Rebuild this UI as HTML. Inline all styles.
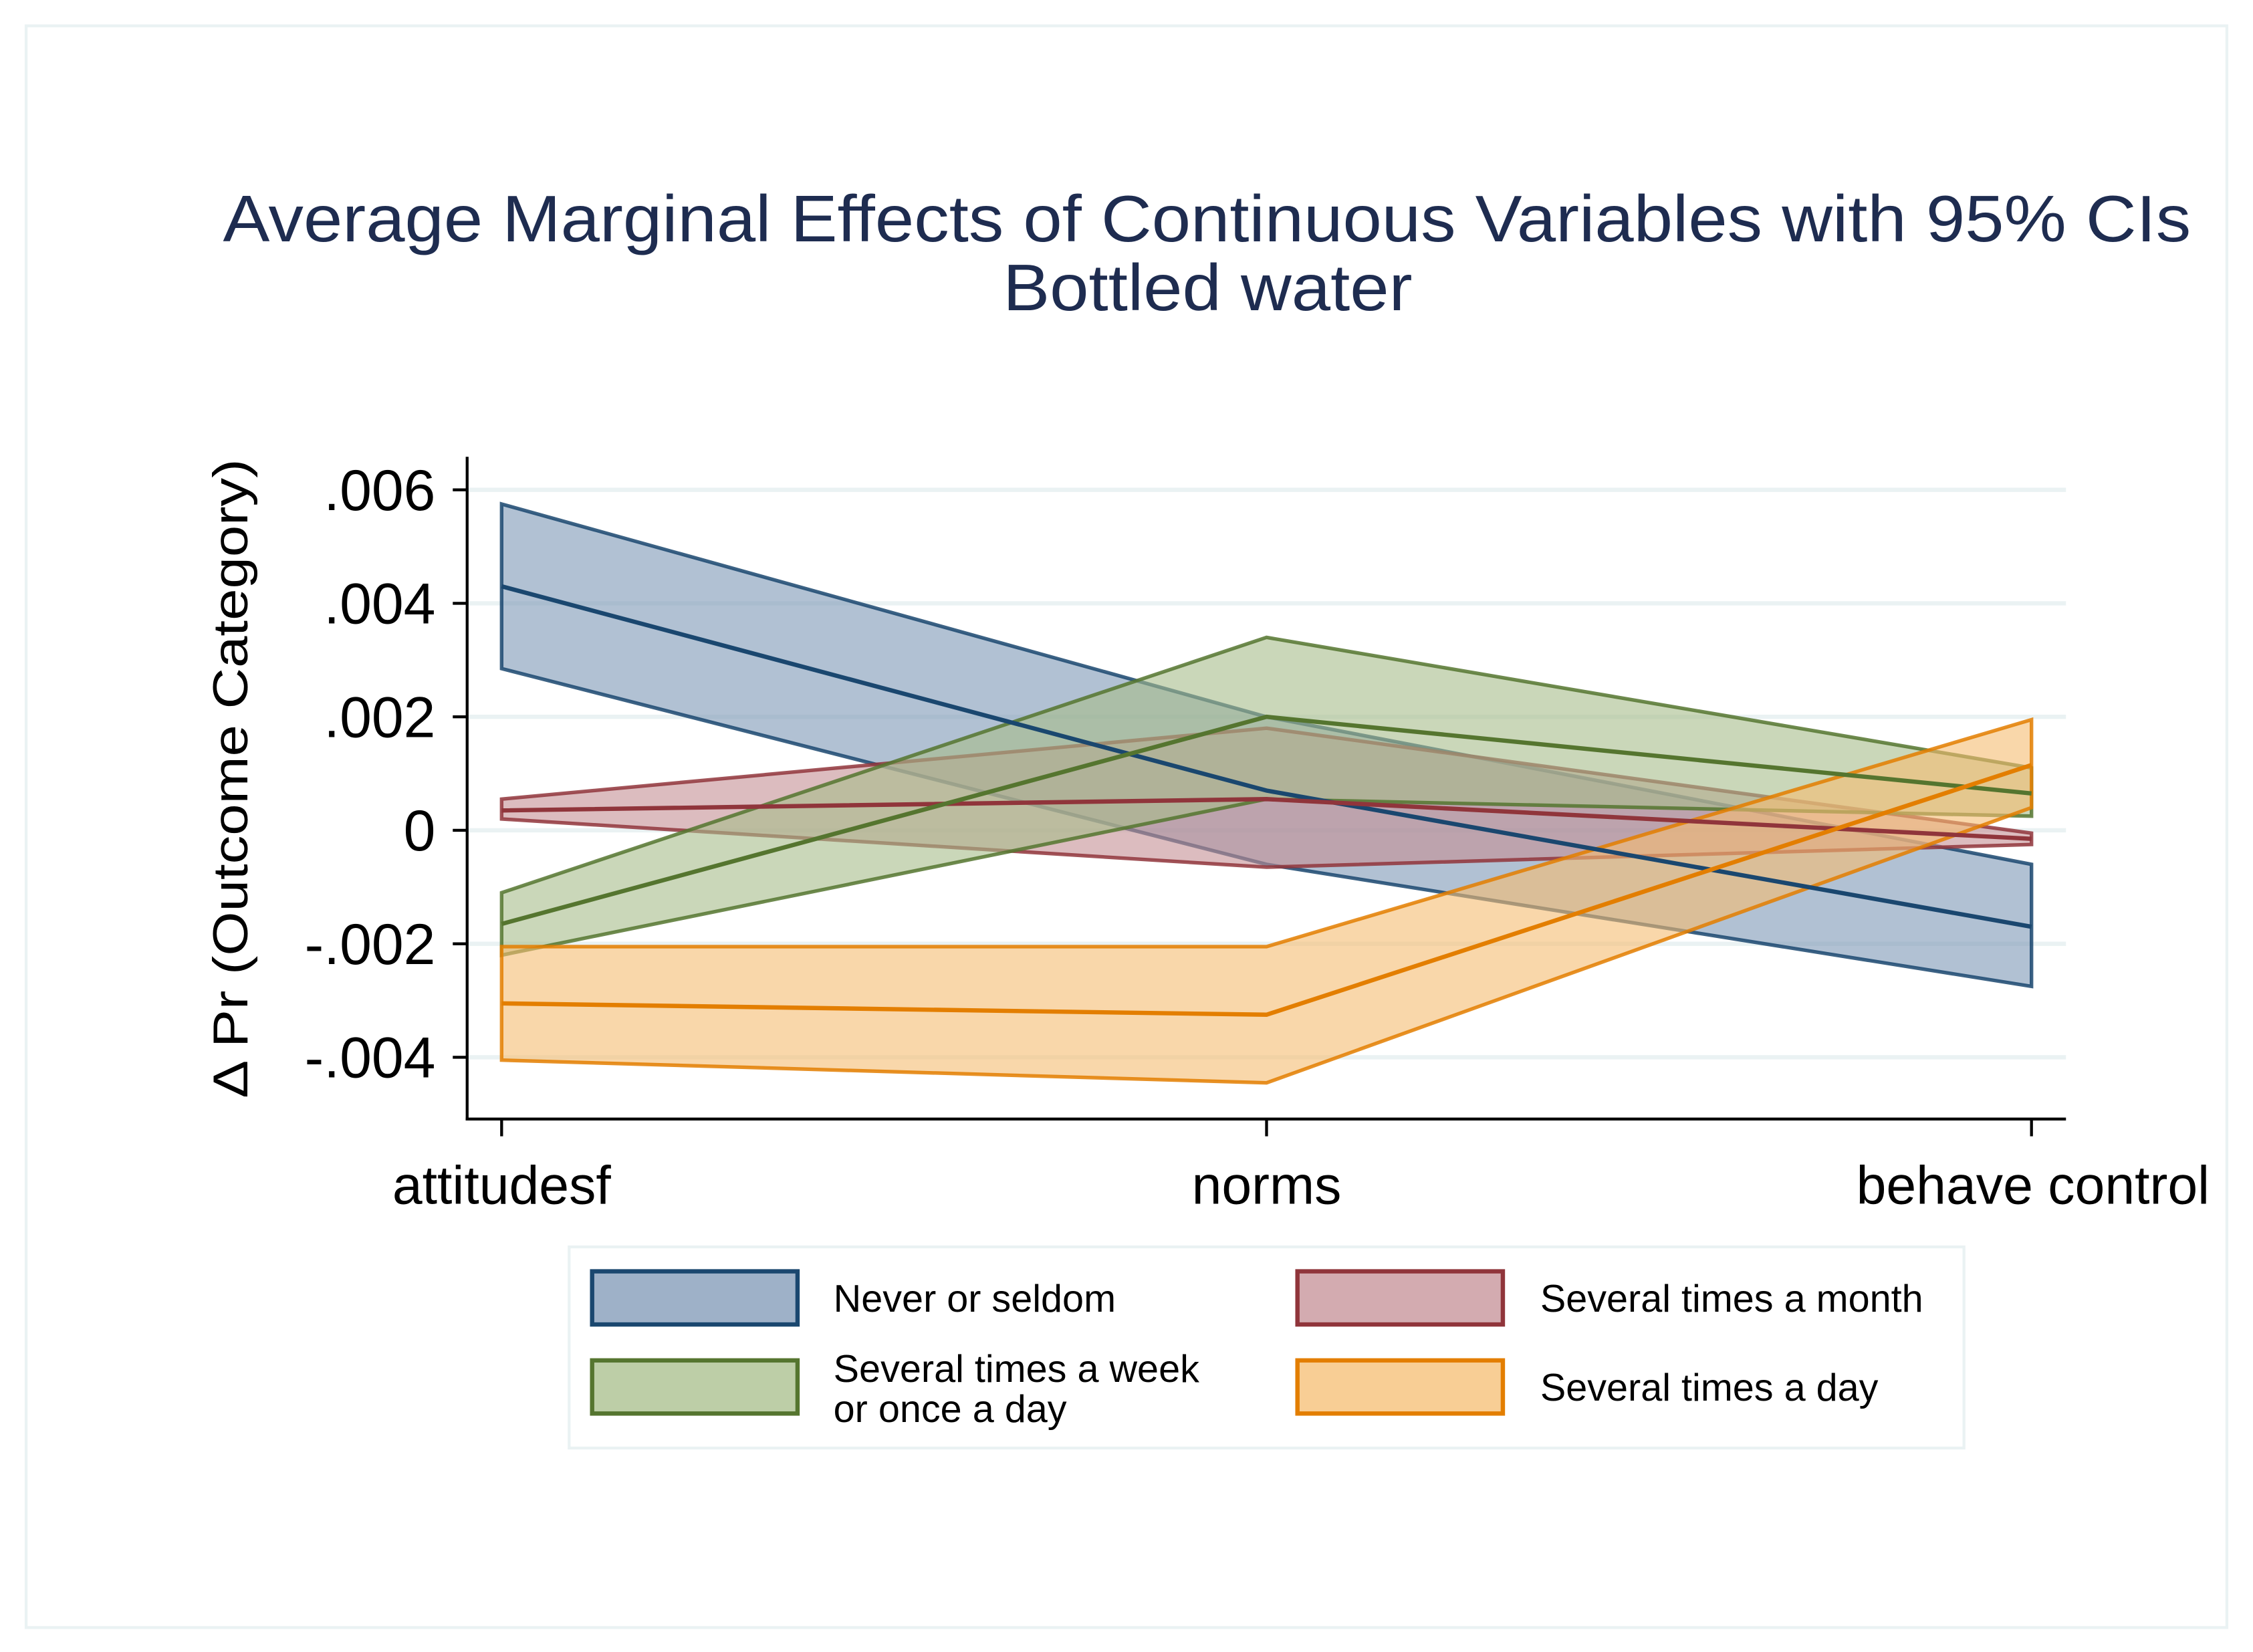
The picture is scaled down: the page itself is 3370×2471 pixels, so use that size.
<!DOCTYPE html>
<html><head><meta charset="utf-8"><style>
html,body{margin:0;padding:0;background:#fff;}
svg{display:block;}
text{font-family:"Liberation Sans",Arial,sans-serif;}
</style></head><body>
<svg id="chart" width="3370" height="2471" viewBox="0 0 1568 1150">
<rect x="0" y="0" width="1568" height="1150" fill="#fff"/>
<rect x="18" y="18" width="1532" height="1115" fill="#fff" stroke="#eaf2f3" stroke-width="2"/>
<text x="155" y="168" font-size="46" fill="#1e2c50" textLength="1370" lengthAdjust="spacingAndGlyphs">Average Marginal Effects of Continuous Variables with 95% CIs</text>
<text x="698" y="216" font-size="46" fill="#1e2c50" textLength="285" lengthAdjust="spacingAndGlyphs">Bottled water</text>
<g id="grid"></g>
<g id="bands"></g>
<g id="axes"></g>
<text transform="translate(172,542) rotate(-90)" font-size="34" fill="#000" text-anchor="middle" textLength="445" lengthAdjust="spacingAndGlyphs">Δ  Pr (Outcome Category)</text>
<g id="legend"></g>
</svg>
<script>
const categories = ["attitudesf","norms","behave control"];
const yTicks = [0.006,0.004,0.002,0,-0.002,-0.004];
const yTickLabels = [".006",".004",".002","0","-.002","-.004"];
const seriesNames = ["Never or seldom","Several times a month","Several times a week\nor once a day","Several times a day"];
const neverMean = [0.0043,0.0007,-0.0017];
const neverHi = [0.00575,0.0020,-0.0006];
const neverLo = [0.00285,-0.0006,-0.00275];
const monthMean = [0.00035,0.00055,-0.00015];
const monthHi = [0.00055,0.0018,-0.00005];
const monthLo = [0.0002,-0.00065,-0.00025];
const weekMean = [-0.00165,0.0020,0.00065];
const weekHi = [-0.0011,0.0034,0.0011];
const weekLo = [-0.0022,0.00055,0.00025];
const dayMean = [-0.00305,-0.00325,0.00115];
const dayHi = [-0.00205,-0.00205,0.00195];
const dayLo = [-0.00405,-0.00445,0.0004];

const NS="http://www.w3.org/2000/svg";
const X0=349,X1=1414,PL=325,PR=1438,PB=779,PT=318;
function xs(i){return X0+(X1-X0)*i/(categories.length-1);}
function ys(v){return 578 - v/0.002*79;}
function mk(tag,attrs,parent){const e=document.createElementNS(NS,tag);for(const k in attrs)e.setAttribute(k,attrs[k]);parent.appendChild(e);return e;}
const grid=document.getElementById('grid'),bands=document.getElementById('bands'),axes=document.getElementById('axes'),legend=document.getElementById('legend');
yTicks.forEach((v,i)=>{
  const g=mk('line',{x1:PL,x2:PR,y1:ys(v),y2:ys(v),stroke:'#eaf2f3','stroke-width':3},grid);
  
  
  const t=mk('line',{x1:PL-10,x2:PL,y1:ys(v),y2:ys(v),stroke:'#000','stroke-width':2},axes);
  
  
  const l=mk('text',{x:PL-22,y:ys(v)+14,'font-size':40,'text-anchor':'end',fill:'#000'},axes);
  l.textContent=yTickLabels[i];
  
  
});
const ya=mk('line',{x1:PL,x2:PL,y1:PT,y2:PB+1,stroke:'#000','stroke-width':2},axes);


const xa=mk('line',{x1:PL-1,x2:PR,y1:PB,y2:PB,stroke:'#000','stroke-width':2},axes);


categories.forEach((c,i)=>{
  const t=mk('line',{x1:xs(i),x2:xs(i),y1:PB,y2:PB+12,stroke:'#000','stroke-width':2},axes);
  
  
  const l=mk('text',{x:xs(i)+(i==2?1:0),y:PB+59,'font-size':37.5,'text-anchor':'middle',fill:'#000'},axes);
  l.textContent=c;
  
  
});
const series=[
 {name:'never-or-seldom',m:neverMean,h:neverHi,l:neverLo,c:'#1a476f',f:'#7d97b5'},
 {name:'several-times-a-month',m:monthMean,h:monthHi,l:monthLo,c:'#90353b',f:'#c48f95'},
 {name:'several-times-a-week',m:weekMean,h:weekHi,l:weekLo,c:'#55752f',f:'#a7bd8a'},
 {name:'several-times-a-day',m:dayMean,h:dayHi,l:dayLo,c:'#e37e00',f:'#f5bd72'}];
series.forEach(s=>{
  let pts=s.h.map((v,i)=>xs(i)+','+ys(v));
  pts=pts.concat(s.l.map((v,i)=>xs(i)+','+ys(v)).reverse());
  const p=mk('polygon',{points:pts.join(' '),fill:s.f,'fill-opacity':0.6,stroke:s.c,'stroke-width':2.5,'stroke-opacity':0.85},bands);
  
  
});
series.forEach(s=>{
  const ln=mk('polyline',{points:s.m.map((v,i)=>xs(i)+','+ys(v)).join(' '),fill:'none',stroke:s.c,'stroke-width':3},bands);
  
  
});
const lb=mk('rect',{x:396,y:868,width:971,height:140,fill:'#fff',stroke:'#eaf2f3','stroke-width':2},legend);


const lpos=[[412,885,580],[903,885,1072],[412,947,580],[903,947,1072]];
const lorder=[0,1,2,3];
const lnames=[seriesNames[0],seriesNames[1],seriesNames[2],seriesNames[3]];
const lser=[series[0],series[1],series[2],series[3]];
lorder.forEach((k,i)=>{
  const [x,y,tx]=lpos[i];const s=lser[k];
  const r=mk('rect',{x:x,y:y,width:143,height:37,fill:s.f,'fill-opacity':0.75,stroke:s.c,'stroke-width':3},legend);
  
  
  const lines=lnames[k].split('\n');
  const t=mk('text',{x:tx,y:lines.length>1?y+15:y+28,'font-size':26.8,fill:'#000'},legend);
  
  
  lines.forEach((ln,j)=>{const ts=mk('tspan',{x:tx,dy:j?28:0},t);ts.textContent=ln;});
});
</script>
</body></html>
